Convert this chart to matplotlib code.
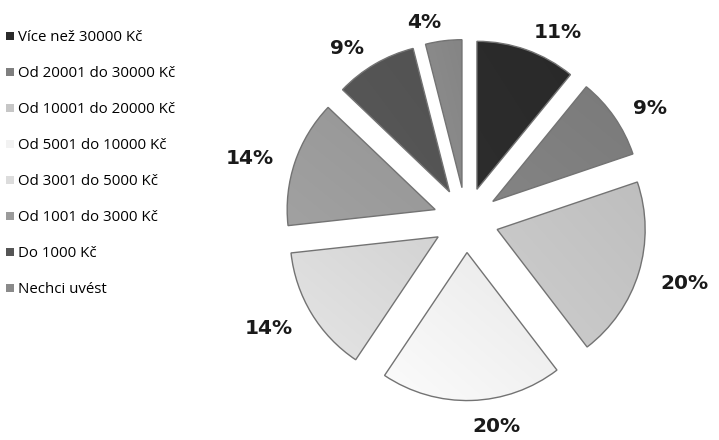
import numpy as np
import matplotlib.pyplot as plt
from matplotlib.colors import to_rgb
from matplotlib.patches import Patch

categories = ["Více než 30000 Kč", "Od 20001 do 30000 Kč", "Od 10001 do 20000 Kč",
              "Od 5001 do 10000 Kč", "Od 3001 do 5000 Kč", "Od 1001 do 3000 Kč",
              "Do 1000 Kč", "Nechci uvést"]
shares = [11, 9, 20, 20, 14, 14, 9, 4]
colors = ["#2b2b2b", "#7f7f7f", "#c6c6c6", "#f2f2f2", "#dcdcdc", "#9b9b9b", "#555555", "#8a8a8a"]

fig = plt.figure(figsize=(7.19, 4.40), dpi=100)
ax = fig.add_axes([0, 0, 1, 1])

R = 148
cx, cy = 466, 220
wedges, texts = ax.pie(shares, colors=colors, startangle=90, counterclock=False,
                       center=(cx, cy), radius=R, explode=[0.22 * R] * len(shares),
                       labels=[f"{v}%" for v in shares], labeldistance=1.15,
                       wedgeprops=dict(edgecolor="#737373", linewidth=1.0),
                       textprops=dict(fontsize=14.5, fontweight="bold", color="#1a1a1a",
                                      family="DejaVu Sans"))
ax.set_xlim(0, 719)
ax.set_ylim(0, 440)
ax.axis("off")

# pie aligns against x=0, so fix alignment around the real centre
for t in texts:
    x, y = t.get_position()
    t.set_ha("left" if x >= cx else "right")
    t.set_position((x, y - 4))

# soft diagonal shading inside each wedge
for w, c in zip(wedges, colors):
    base = np.array(to_rgb(c))
    ext = w.get_path().get_extents(w.get_transform()).transformed(ax.transData.inverted())
    x0, y0, x1, y1 = ext.x0, ext.y0, ext.x1, ext.y1
    gx, gy = np.meshgrid(np.linspace(0, 1, 64), np.linspace(0, 1, 64))
    t = (gx + (1 - gy)) / 2
    shade = 1.04 - 0.08 * t
    img = np.clip(base[None, None, :] * shade[..., None], 0, 1)
    im = ax.imshow(img, extent=(x0, x1, y0, y1), origin="upper", zorder=w.get_zorder() - 0.01,
                   interpolation="bilinear")
    im.set_clip_path(w)
    w.set_facecolor("none")

handles = [Patch(facecolor=c, edgecolor="none") for c in colors]
fig.legend(handles, categories, loc="upper left", bbox_to_anchor=(-0.01, 0.962),
           frameon=False, handlelength=0.5, handleheight=0.5,
           handletextpad=0.25, labelspacing=1.4, prop=dict(family="Open Sans", size=10.8))

fig.savefig("out.png", dpi=100)
